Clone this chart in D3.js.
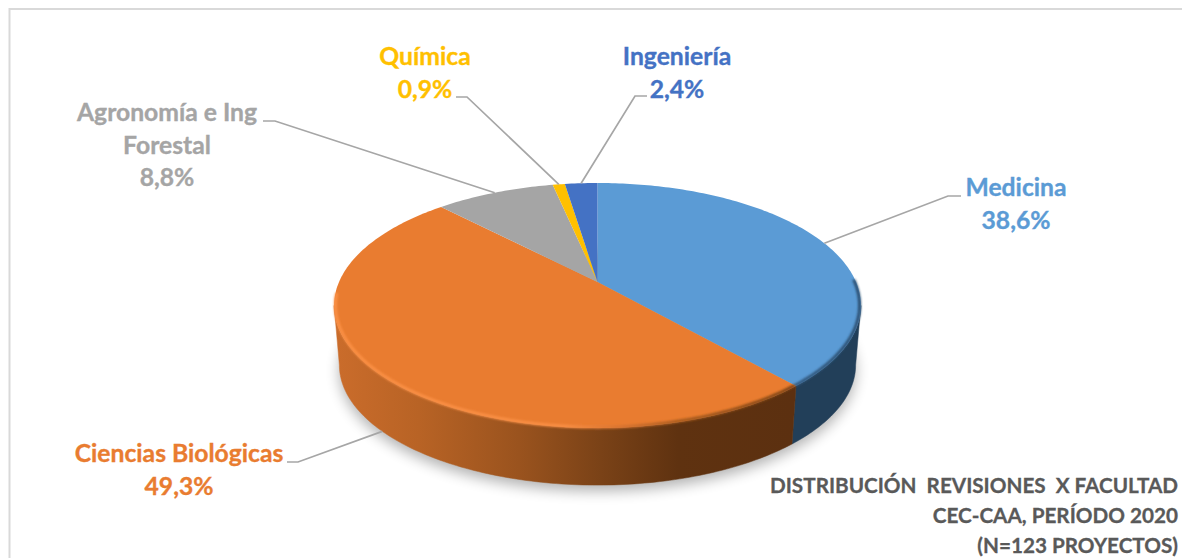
<!DOCTYPE html>
<html>
<head>
<meta charset="utf-8">
<script src="https://cdn.jsdelivr.net/npm/d3@7"></script>
<style>
  html, body { margin: 0; padding: 0; background: #fff; }
  svg { display: block; }
  text { font-family: Lato, "Open Sans", sans-serif; font-weight: 700; white-space: pre; }
</style>
</head>
<body>
<div id="elements"></div>
<script>
const categories = ["Medicina", "Ciencias Biológicas", "Agronomía e Ing Forestal", "Química", "Ingeniería"];
const values = [38.6, 49.3, 8.8, 0.9, 2.4];
const title_lines = ["DISTRIBUCIÓN  REVISIONES  X FACULTAD", "CEC-CAA, PERÍODO 2020", "(N=123 PROYECTOS)"];

const colors = d3.scaleOrdinal()
  .domain(categories)
  .range(["#5b9bd5", "#e97c30", "#a5a5a5", "#ffc000", "#4472c4"]);

// where each label goes, same order as categories
const label_layout = [
  { lines: ["Medicina"], x: 1016, y: 196, anchor: "rim", leader: [[948, 196], [961, 196]] },
  { lines: ["Ciencias Biológicas"], x: 179, y: 462, anchor: "base", leader: [[298, 462], [287, 462]] },
  { lines: ["Agronomía e Ing", "Forestal"], x: 167, y: 121, anchor: "rim", leader: [[275, 121], [263, 121]] },
  { lines: ["Química"], x: 425, y: 65, anchor: "rim", leader: [[467, 97], [456, 97]] },
  { lines: ["Ingeniería"], x: 677, y: 65, anchor: "rim", leader: [[635, 96], [647, 96]] }
];

const width = 1182;
const height = 558;
const line_gap = 32.5;

const svg = d3.create("svg").attr("width", width).attr("height", height);
document.getElementById("elements").appendChild(svg.node());

const defs = svg.append("defs");

const add_blur = (id, std) => {
  defs.append("filter")
    .attr("id", id)
    .attr("x", "-10%").attr("y", "-20%")
    .attr("width", "120%").attr("height", "140%")
    .append("feGaussianBlur")
    .attr("stdDeviation", std);
};
add_blur("soft", 1.2);
add_blur("shadow", 7);

const add_gradient = (id, x1, x2, stops) => {
  defs.append("linearGradient")
    .attr("id", id)
    .attr("gradientUnits", "userSpaceOnUse")
    .attr("x1", x1).attr("x2", x2)
    .attr("y1", 0).attr("y2", 0)
    .selectAll("stop")
    .data(stops)
    .enter()
    .append("stop")
    .attr("offset", (d) => d[0])
    .attr("stop-color", (d) => d[1]);
};
add_gradient("orange_side", 337, 792, [
  [0, "#ca6c2b"], [0.18, "#b86325"], [0.4, "#9a531e"],
  [0.58, "#7a4217"], [0.75, "#5f3210"], [1, "#5c3010"]
]);
add_gradient("orange_rim", 335, 795, [
  [0, "#fb9045"], [0.5, "#f98f45"], [0.62, "#d87430"],
  [0.75, "#a65a1e"], [1, "#7a4215"]
]);
add_gradient("blue_rim", 790, 862, [[0, "#31597f"], [1, "#2b4d6e"]]);

// the pie lies on a tilted disc, so a unit circle goes through a perspective divide
const tilt = 0.192;
const x_scale = d3.scaleLinear().domain([-1, 1]).range([339, 856]);
const y_scale = d3.scaleLinear().domain([-1, 1]).range([400, 164]);

const project = (angle, r = 1, drop = 0, shrink = 1) => {
  const u = r * Math.sin(angle);
  const v = r * Math.cos(angle);
  const w = 1 + tilt * v;
  const x0 = x_scale(0);
  const y0 = y_scale(0);
  return [
    x0 + (x_scale(u / w) - x0) * shrink,
    y0 + drop + (y_scale(v / w) - y0) * shrink
  ];
};
const rim_drop = 60;
const rim_shrink = 0.98;

const arc_points = (a0, a1, r, drop, shrink) => {
  const n = Math.max(2, Math.ceil(Math.abs(a1 - a0) * 60));
  return d3.range(n + 1).map((i) => project(a0 + ((a1 - a0) * i) / n, r, drop, shrink));
};

const line = d3.line();
const slices = d3.pie().sort(null).value((d) => d)(values);

// silhouette limits of the side wall
const side_from = Math.acos(-tilt);
const side_to = 2 * Math.PI - side_from;

// frame
svg.append("path")
  .attr("d", line([[9.5, height], [9.5, 9], [width, 9]]))
  .attr("fill", "none")
  .attr("stroke", "#d9d9d9")
  .attr("stroke-width", 2);

// soft shadow under the disc
svg.append("path")
  .attr("d", line(arc_points(0, 2 * Math.PI, 1, rim_drop + 6, rim_shrink)) + "Z")
  .attr("fill", "#000")
  .attr("opacity", 0.3)
  .attr("filter", "url(#shadow)");

// side wall
const side_path = (a0, a1) =>
  line(arc_points(a0, a1, 1, 0, 1).concat(arc_points(a1, a0, 1, rim_drop, rim_shrink))) + "Z";

const sides = [
  { a0: side_from, a1: slices[0].endAngle, fill: "#223f59" },
  { a0: slices[1].startAngle, a1: side_to, fill: "url(#orange_side)" }
];
svg.append("g")
  .selectAll("path")
  .data(sides)
  .enter()
  .append("path")
  .attr("d", (d) => side_path(d.a0, d.a1))
  .attr("fill", (d) => d.fill)
  .attr("stroke", (d) => d.fill)
  .attr("stroke-width", 0.5);

// top faces
const apex = project(0, 0);
svg.append("g")
  .selectAll("path")
  .data(slices)
  .enter()
  .append("path")
  .attr("d", (d) => line([apex].concat(arc_points(d.startAngle, d.endAngle, 1, 0, 1))) + "Z")
  .attr("fill", (d, i) => colors(categories[i]));

// bevel along the front edge of the top face
const bevels = [
  { a0: 1.55, a1: slices[0].endAngle, stroke: "url(#blue_rim)" },
  { a0: slices[1].startAngle, a1: side_to + 0.1, stroke: "url(#orange_rim)" }
];
svg.append("g")
  .selectAll("path")
  .data(bevels)
  .enter()
  .append("path")
  .attr("d", (d) => line(arc_points(d.a0, d.a1, 0.995, 0, 1)))
  .attr("fill", "none")
  .attr("stroke", (d) => d.stroke)
  .attr("stroke-width", 3)
  .attr("filter", "url(#soft)");

// leader lines start at the middle of each slice
const leaders = slices.map((d, i) => {
  const layout = label_layout[i];
  const mid = (d.startAngle + d.endAngle) / 2;
  const start = layout.anchor === "base"
    ? project(mid, 1, rim_drop, rim_shrink)
    : project(mid);
  return [start].concat(layout.leader);
});
svg.append("g")
  .selectAll("path")
  .data(leaders)
  .enter()
  .append("path")
  .attr("d", (d) => line(d))
  .attr("fill", "none")
  .attr("stroke", "#a6a6a6")
  .attr("stroke-width", 1.7);

// labels, Lato runs thin so a hairline stroke brings the weight up
const labels = svg.append("g")
  .selectAll("text")
  .data(categories)
  .enter()
  .append("text")
  .attr("text-anchor", "middle")
  .attr("font-size", 24.7)
  .attr("stroke-width", 0.35)
  .attr("fill", (d) => colors(d))
  .attr("stroke", (d) => colors(d));

labels.each(function (d, i) {
  const layout = label_layout[i];
  const rows = layout.lines.concat([String(values[i]).replace(".", ",") + "%"]);
  d3.select(this)
    .selectAll("tspan")
    .data(rows)
    .enter()
    .append("tspan")
    .attr("x", layout.x)
    .attr("y", (_, j) => layout.y + j * line_gap)
    .text((row) => row);
});

// title, bottom right
svg.append("g")
  .selectAll("text")
  .data(title_lines)
  .enter()
  .append("text")
  .attr("x", 1178)
  .attr("y", (_, i) => 493 + i * 30)
  .attr("text-anchor", "end")
  .attr("font-size", 20.7)
  .attr("stroke-width", 0.3)
  .attr("fill", "#595959")
  .attr("stroke", "#595959")
  .text((d) => d);
</script>
</body>
</html>
